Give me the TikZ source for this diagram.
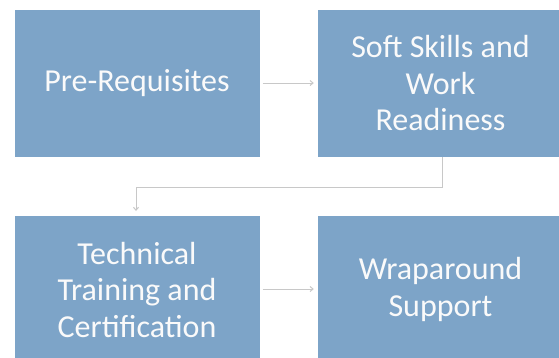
\documentclass[tikz,border=0pt]{standalone}
\usepackage{fontspec}
\setmainfont{Carlito}
\usetikzlibrary{arrows.meta}
\definecolor{boxblue}{RGB}{125,164,200}
\definecolor{linegray}{RGB}{200,200,200}
\definecolor{txt}{RGB}{250,250,250}
\begin{document}
\begin{tikzpicture}[x=1pt,y=-1pt,
  stagebox/.style={fill=boxblue,draw=none,inner sep=0pt,text=txt,align=center,
    minimum width=245pt,minimum height=147pt,
    font=\fontsize{32}{36.5}\selectfont},
  conn/.style={draw=linegray,line width=1pt,-{Straight Barb[length=3pt,width=5pt]}}]
\useasboundingbox (0,0) rectangle (559,357);
\begin{scope}
\clip (0,0) rectangle (559,357);
\node[stagebox] (pre) at (137,83.5) {Pre-Requisites};
\node[stagebox] (soft) at (440.5,83.5) {Soft Skills and\\Work\\Readiness};
\node[stagebox] (tech) at (137,289.5) {Technical\\Training and\\Certification};
\node[stagebox] (wrap) at (440.5,289.5) {Wraparound\\Support};
\end{scope}
\coordinate (bend) at (442,187);
\draw[conn] ([xshift=3pt]pre.east |- 0,83) -- ([xshift=-4pt]soft.west |- 0,83);
\draw[conn] (442,157) -- (bend) -- (136,187) -- (136,211);
\draw[conn] ([xshift=3pt]tech.east |- 0,289) -- ([xshift=-4pt]wrap.west |- 0,289);
\end{tikzpicture}
\end{document}
